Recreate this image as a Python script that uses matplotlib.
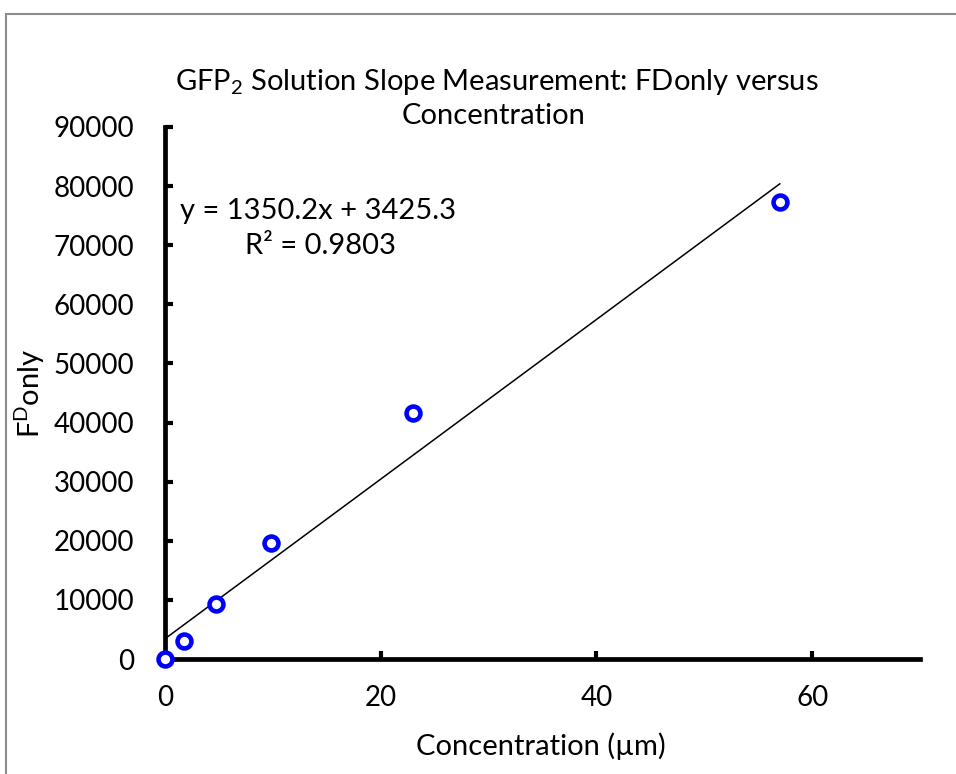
import matplotlib
matplotlib.use("Agg")
import matplotlib.pyplot as plt
from matplotlib.patches import Rectangle
import numpy as np

plt.rcParams['font.family'] = ['Lato', 'DejaVu Sans']
plt.rcParams['mathtext.fontset'] = 'custom'
plt.rcParams['mathtext.rm'] = 'Lato'
plt.rcParams['mathtext.it'] = 'Lato:italic'
plt.rcParams['mathtext.bf'] = 'Lato:bold'

conc = [0, 1.8, 4.7, 9.8, 23.0, 57.0]
fdonly = [0, 3100, 9300, 19700, 41700, 77300]
slope = 1350.2
intercept = 3425.3
r2 = 0.9803
xticks = [0, 20, 40, 60]
yticks = list(range(0, 90001, 10000))

W, H = 956, 774
fig = plt.figure(figsize=(W/100, H/100), dpi=100)
fig.patches.append(Rectangle((6/W, -0.05), 1.2, 1 - 14/H + 0.05, transform=fig.transFigure,
                             fill=False, edgecolor='#8c8c8c', linewidth=1.5))

ax = fig.add_axes([165/W, 1 - 659/H, (920-165)/W, (659-127)/H])
ax.set_xlim(0, 70)
ax.set_ylim(0, 90000)
for s in ['top', 'right']:
    ax.spines[s].set_visible(False)
for s in ['left', 'bottom']:
    ax.spines[s].set_linewidth(3.4)
    ax.spines[s].set_color('black')
    ax.spines[s].set_capstyle('projecting')
ax.set_xticks(xticks)
ax.set_yticks(yticks)
ax.tick_params(direction='in', length=6, width=3, labelsize=20, color='black')
ax.tick_params(axis='y', pad=22)
ax.tick_params(axis='x', pad=19)

xl = np.array([0, max(conc)])
ax.plot(xl, slope*xl + intercept, color='black', linewidth=1.1, zorder=3)
ax.plot(conc, fdonly, linestyle='none', marker='o', markersize=10, markeredgewidth=3.3,
        markerfacecolor='white', markeredgecolor='#0000ff', clip_on=False, zorder=5)

fs = 21
fig.text(497/W, 1 - 82/H, r'GFP$_{\mathrm{2}}$ Solution Slope Measurement: FDonly versus', ha='center', va='center', fontsize=fs)
fig.text(494/W, 1 - 116/H, 'Concentration', ha='center', va='center', fontsize=fs)
fig.text(318/W, 1 - 211/H, 'y = 1350.2x + 3425.3', ha='center', va='center', fontsize=fs)
fig.text(320/W, 1 - 246/H, f'R² = {r2}', ha='center', va='center', fontsize=fs)
fig.text(541/W, 1 - 746/H, 'Concentration (µm)', ha='center', va='center', fontsize=fs)
fig.text(30/W, 1 - 393/H, r'F$^{\mathrm{D}}$only', ha='center', va='center', rotation=90, fontsize=fs)

fig.savefig('out.png', dpi=100)
